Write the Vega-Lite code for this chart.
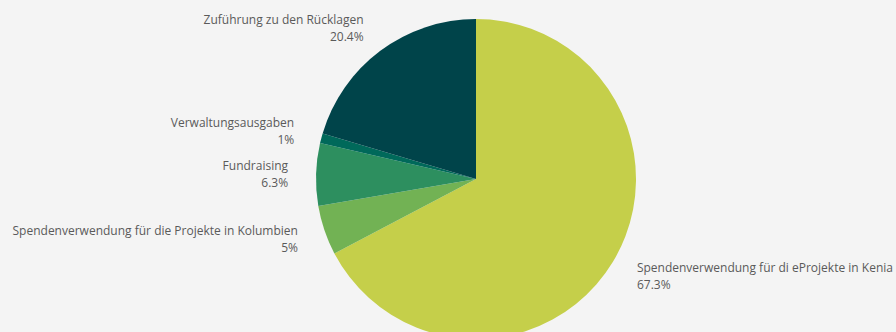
{
  "$schema": "https://vega.github.io/schema/vega-lite/v6.json",
  "width": 840,
  "height": 306,
  "autosize": "none",
  "padding": {"left": 56, "top": 26, "right": 0, "bottom": 0},
  "background": "#f4f4f4",
  "config": {"view": {"stroke": null}},
  "data": {
    "values": [
      {"kategorie": "Spendenverwendung für di eProjekte in Kenia", "anteil": 67.3, "rang": 1},
      {"kategorie": "Spendenverwendung für die Projekte in Kolumbien", "anteil": 5, "rang": 2},
      {"kategorie": "Fundraising", "anteil": 6.3, "rang": 3},
      {"kategorie": "Verwaltungsausgaben", "anteil": 1, "rang": 4},
      {"kategorie": "Zuführung zu den Rücklagen", "anteil": 20.4, "rang": 5}
    ]
  },
  "transform": [
    {"calculate": "datum.kategorie + '\\n' + datum.anteil + '%'", "as": "label"}
  ],
  "encoding": {
    "theta": {"field": "anteil", "type": "quantitative", "stack": true},
    "order": {"field": "rang", "type": "quantitative"},
    "color": {
      "field": "kategorie",
      "type": "nominal",
      "scale": {
        "domain": [
          "Spendenverwendung für di eProjekte in Kenia",
          "Spendenverwendung für die Projekte in Kolumbien",
          "Fundraising",
          "Verwaltungsausgaben",
          "Zuführung zu den Rücklagen"
        ],
        "range": ["#c5cf4a", "#72b254", "#2d8f5f", "#00695a", "#00444a"]
      },
      "legend": null
    }
  },
  "layer": [
    {"mark": {"type": "arc", "radius": 160, "strokeWidth": 0}},
    {
      "mark": {
        "type": "text",
        "radius": 188,
        "align": {"expr": "datum.rang == 1 ? 'left' : 'right'"},
        "baseline": "middle",
        "dy": -8,
        "lineBreak": "\n",
        "font": "Open Sans",
        "fontSize": 12,
        "lineHeight": 17
      },
      "encoding": {
        "text": {"field": "label", "type": "nominal"},
        "color": {"value": "#5a5a5a"}
      }
    }
  ]
}
